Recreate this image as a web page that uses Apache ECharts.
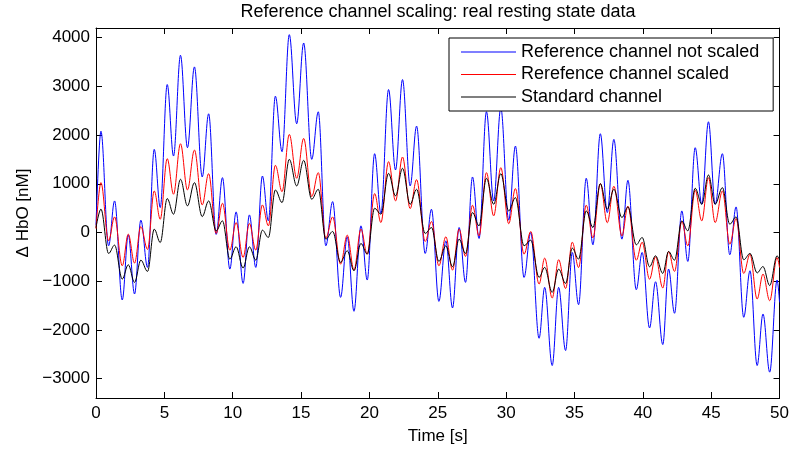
<!DOCTYPE html>
<html><head><meta charset="utf-8">
<script src="https://cdn.jsdelivr.net/npm/echarts@6/dist/echarts.min.js"></script>
<style>html,body{margin:0;padding:0;background:#fff}#c{width:792px;height:454px}</style>
</head><body><div id="c"></div>
<script>
// Time of each local extremum [s]
const times = [0, 0.36, 0.92, 1.36, 1.92, 2.36, 2.82, 3.28, 3.77, 4.26, 4.70, 5.21, 5.67, 6.18, 6.69, 7.20, 7.77, 8.24, 8.79, 9.25,
  9.79, 10.25, 10.76, 11.22, 11.69, 12.17, 12.61, 13.12, 13.61, 14.14, 14.68, 15.19, 15.78, 16.26, 16.81, 17.31, 17.89, 18.38, 18.87, 19.38,
  19.84, 20.38, 20.84, 21.40, 21.91, 22.42, 22.98, 23.45, 24.08, 24.54, 25.08, 25.59, 26.08, 26.56, 27.03, 27.54, 28.02, 28.56, 29.09, 29.61,
  30.19, 30.68, 31.31, 31.80, 32.41, 32.82, 33.37, 33.84, 34.35, 34.84, 35.30, 35.86, 36.35, 36.89, 37.40, 37.88, 38.47, 38.91, 39.52, 39.95,
  40.49, 40.93, 41.46, 41.88, 42.32, 42.85, 43.29, 43.83, 44.31, 44.80, 45.29, 45.82, 46.36, 46.82, 47.38, 47.84, 48.36, 48.79, 49.28, 49.82, 50];
const notScaled = [150, 2080, -274, 648, -1387, -49, -1264, 252, -718, 1707, 512, 3039, 1570, 3640, 1741, 3401, 1140, 2438, -40, 1126,
  -752, 423, -1046, 361, -718, 1160, 238, 2800, 1659, 4063, 2233, 3892, 1502, 2479, -274, 634, -1333, -89, -1619, 136,
  -977, 1618, 389, 2936, 1283, 3141, 956, 2185, -431, 477, -1415, -172, -1551, 102, -1025, 1140, -124, 2480, 648, 2560,
  252, 1775, -923, 0, -2173, -1128, -2733, -1128, -2425, -411, -1483, 1113, -253, 2028, 409, 1912, -137, 1072, -1176, -411,
  -1961, -1012, -2302, -752, -1660, 443, -595, 1741, 580, 2274, 580, 1618, -458, 525, -1742, -786, -2733, -1674, -2869, -977, -1435];
const scaled = [80, 1024, -171, 320, -684, -35, -629, 122, -349, 853, 272, 1516, 785, 1823, 874, 1693, 566, 1208, -20, 600,
  -363, 204, -513, 184, -363, 566, 136, 1379, 839, 2014, 1113, 1932, 737, 1229, -120, 320, -650, -55, -773, 68,
  -445, 798, 204, 1454, 648, 1550, 491, 1085, -185, 225, -684, -89, -773, 68, -492, 559, -69, 1229, 341, 1331,
  180, 901, -445, 20, -1060, -527, -1346, -560, -1150, -200, -720, 560, -110, 1003, 200, 950, -70, 540, -570, -200,
  -960, -500, -1140, -390, -800, 225, -274, 867, 238, 1126, 204, 853, -240, 286, -841, -445, -1367, -855, -1401, -513, -720];
const standard = [100, 480, -431, -260, -957, -663, -1025, -568, -800, 68, -206, 696, 375, 1092, 546, 1024, 327, 648, 33, 238,
  -547, -294, -731, -294, -568, 47, -103, 873, 614, 1502, 956, 1481, 682, 887, -137, 20, -615, -376, -786, -226,
  -445, 498, 375, 1215, 751, 1317, 580, 887, -21, 102, -595, -274, -704, -137, -431, 409, 136, 1113, 580, 1208,
  443, 716, -274, -158, -923, -718, -1230, -752, -1046, -322, -547, 443, 102, 1003, 477, 887, 307, 525, -253, -103,
  -704, -479, -841, -390, -568, 238, 33, 908, 580, 1181, 580, 921, 170, 320, -560, -430, -830, -700, -1090, -480, -560];
const seriesNames = ['Reference channel not scaled', 'Rerefence channel scaled', 'Standard channel'];
const seriesColors = ['#0000ff', '#ff0000', '#000000'];
const titleText = 'Reference channel scaling: real resting state data';
const xLabel = 'Time [s]';
const yLabel = '\u0394 HbO [nM]';

const FONT = 'Liberation Sans, Arial, Helvetica, sans-serif';
const pair = (vals) => times.map((t, i) => [t, vals[i]]);
const fmtY = (v) => (Math.abs(v % 1000) < 1e-6) ? (v < 0 ? '\u2212' + Math.abs(v) : String(v)) : '';

const chart = echarts.init(document.getElementById('c'), null, {renderer: 'canvas'});
const axisCommon = {
  axisLine: {show: true, onZero: false, lineStyle: {color: '#000', width: 1}},
  axisTick: {show: true, inside: true, length: 6, lineStyle: {color: '#000', width: 1}},
  splitLine: {show: false}
};
chart.setOption({
  animation: false,
  backgroundColor: '#fff',
  title: {
    text: titleText, left: 438, top: 3, textAlign: 'center', padding: 0,
    textStyle: {fontFamily: FONT, fontSize: 18, fontWeight: 'normal', color: '#000'}
  },
  grid: {left: 96, right: 12, top: 28, bottom: 56, containLabel: false},
  legend: {
    orient: 'vertical', left: 449, top: 38,
    padding: [4, 14, 4, 12], itemGap: 2.5, itemWidth: 55, itemHeight: 20,
    icon: 'path://M0 0H55V1H0Z',
    backgroundColor: '#fff', borderColor: '#000', borderWidth: 1, borderRadius: 0,
    textStyle: {fontFamily: FONT, fontSize: 18, color: '#000', lineHeight: 20},
    data: seriesNames
  },
  xAxis: [
    Object.assign({
      type: 'value', min: 0, max: 50, interval: 5, position: 'bottom',
      name: xLabel, nameLocation: 'middle', nameGap: 30,
      nameTextStyle: {fontFamily: FONT, fontSize: 17, color: '#000'},
      axisLabel: {fontFamily: FONT, fontSize: 17, color: '#000', margin: 7}
    }, axisCommon),
    Object.assign({
      type: 'value', min: 0, max: 50, interval: 5, position: 'top',
      axisLabel: {show: false}
    }, axisCommon)
  ],
  yAxis: [
    Object.assign({
      type: 'value', min: -3400, max: 4200, splitNumber: 8, position: 'left',
      name: yLabel, nameLocation: 'middle', nameGap: 64,
      nameTextStyle: {fontFamily: FONT, fontSize: 17, color: '#000'},
      axisLabel: {fontFamily: FONT, fontSize: 17, color: '#000', margin: 6, formatter: fmtY, showMinLabel: false, showMaxLabel: false}
    }, axisCommon),
    Object.assign({
      type: 'value', min: -3400, max: 4200, splitNumber: 8, position: 'right',
      axisLabel: {show: false}
    }, axisCommon)
  ],
  series: [notScaled, scaled, standard].map((vals, i) => ({
    name: seriesNames[i], type: 'line', data: pair(vals),
    xAxisIndex: 0, yAxisIndex: 0,
    symbol: 'none', showSymbol: false,
    smooth: 0.36, smoothMonotone: 'x',
    lineStyle: {color: seriesColors[i], width: 1},
    itemStyle: {color: seriesColors[i]},
    z: 2 + i
  }))
});
</script>
</body></html>
